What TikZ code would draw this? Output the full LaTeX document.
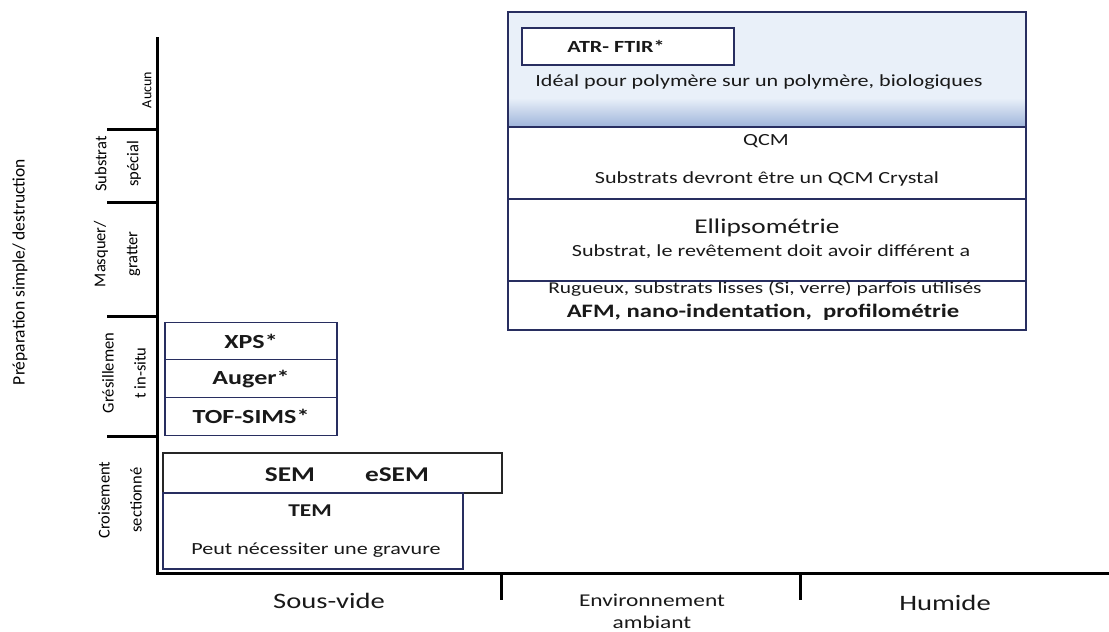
\documentclass[tikz,border=0pt]{standalone}
\usepackage{fontspec}
\setmainfont{Carlito}[FakeStretch=1.3]
\newfontfamily\sidefont{Carlito}
\definecolor{navy}{RGB}{40,46,96}
\definecolor{palebg}{RGB}{233,240,249}
\definecolor{deepbg}{RGB}{158,180,218}
\newcommand\fs[1]{\fontsize{#1}{#1}\selectfont}
\begin{document}
\begin{tikzpicture}[x=1pt,y=-1pt,
  axis/.style={line width=3pt},
  cell/.style={draw=navy,line width=1.1pt},
  ylab/.style={rotate=90,align=center,font=\sidefont\fontsize{16.5}{32}\selectfont},
  txt/.style={text=black!90,inner sep=0pt}]
\useasboundingbox (0,0) rectangle (1109,632);
% axes
\draw[axis] (157,37) -- (157,573) -- (1109,573);
\foreach \y in {129,202,316,436}
  \draw[axis] (107,\y) -- (157,\y);
\foreach \x in {501,800}
  \draw[axis] (\x,573) -- (\x,600);
\node[ylab,font=\sidefont\fs{14}] (aucun) at (147,90) {Aucun};
\node[ylab] (subst) at (118,164) {Substrat\\spécial};
\node[ylab] (masq) at (117,254) {Masquer/\\gratter};
\node[ylab] (gres) at (124,373) {Grésillemen\\t in-situ};
\node[ylab] (crois) at (120,500) {Croisement\\sectionné};
\node[ylab,font=\sidefont\fs{17.5}] (prep) at (20,272) {Préparation simple/ destruction};
\node[txt,font=\fs{22}] (svide) at (329,601) {Sous-vide};
\node[txt,align=center,font=\fontsize{18}{22}\selectfont] (amb) at (652,611) {Environnement\\ambiant};
\node[txt,font=\fs{22}] (hum) at (945,603) {Humide};
% big box
\fill[palebg] (508,12) rectangle (1026,98);
\shade[top color=palebg,bottom color=deepbg] (508,98) rectangle (1026,127);
\draw[cell] (508,12) rectangle (1026,330);
\foreach \y in {127,199,281}
  \draw[cell] (508,\y) -- (1026,\y);
\draw[cell,fill=white] (522,28) rectangle (734,65);
\node[txt,font=\bfseries\fs{17}] (atr) at (616,46) {ATR- FTIR*};
\node[txt,font=\fs{17}] (ideal) at (759,82) {Idéal pour polymère sur un polymère, biologiques};
\node[txt,font=\fs{17}] (qcm) at (766,141) {QCM};
\node[txt,font=\fs{17}] (qcmnote) at (767,179) {Substrats devront être un QCM Crystal};
\node[txt,font=\fs{21}] (ellip) at (767,228) {Ellipsométrie};
\node[txt,font=\fs{17}] (ellipnote) at (771,252) {Substrat, le revêtement doit avoir différent a};
\node[txt,font=\fs{16.5}] (rug) at (765,289) {Rugueux, substrats lisses (Si, verre) parfois utilisés};
\node[txt,font=\bfseries\fs{19}] (afm) at (763,312) {AFM, nano-indentation,\ \ profilométrie};
% left boxes
\foreach \t/\n [count=\i] in {XPS*/xps,Auger*/auger,TOF-SIMS*/tof}
  \node[cell,txt,font=\bfseries\fs{20},minimum width=172,minimum height=37.7] (\n) at (251,303.3+37.7*\i) {\t};
\draw[draw=black!85,line width=1.1pt] (163,453) rectangle (502,493);
\node[txt,font=\bfseries\fs{21}] (sem) at (290,475) {SEM};
\node[txt,font=\bfseries\fs{21}] (esem) at (397,475) {eSEM};
\draw[cell] (163,493) rectangle (463,569);
\node[txt,font=\bfseries\fs{18}] (tem) at (310,511) {TEM};
\node[txt,font=\fs{17}] (temnote) at (316,550) {Peut nécessiter une gravure};
\end{tikzpicture}
\end{document}
